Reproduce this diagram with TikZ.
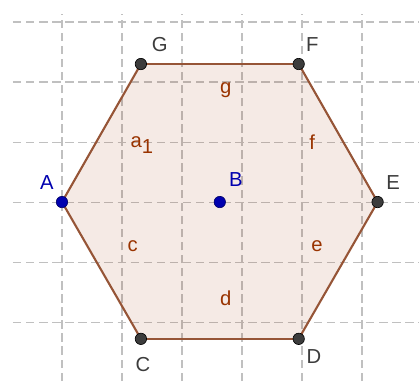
\documentclass[tikz,border=0pt]{standalone}
\usepackage{fontspec}
\setmainfont{Liberation Sans}
\usepackage{xcolor}

\definecolor{hexbrown}{RGB}{153,51,0}
\definecolor{hexedge}{RGB}{150,85,55}
\definecolor{gridgray}{RGB}{192,192,192}
\definecolor{ptgray}{RGB}{60,60,60}
\definecolor{ptblue}{RGB}{0,0,175}

\tikzset{
  gridline/.style={gridgray, line width=0.5pt, dash pattern=on 4pt off 2.2pt},
  side/.style={hexedge, line width=1pt},
  pt/.style={circle, inner sep=0pt, minimum size=5.4pt, fill=ptgray, draw=black, line width=0.3pt},
  bluept/.style={pt, fill=ptblue, draw=ptblue!60!black},
  ptlabel/.style={ptgray, font=\fontsize{9.6}{11}\selectfont},
  bluelabel/.style={ptblue, font=\fontsize{9.6}{11}\selectfont},
  sidelabel/.style={hexbrown, font=\fontsize{9.6}{11}\selectfont}
}

\begin{document}
\begin{tikzpicture}
  \useasboundingbox (-1.033,-2.983) rectangle (5.95,3.367);
  % grid
  \foreach \x in {0,...,5}
    \draw[gridline] (\x,-2.983) -- (\x,3.133);
  \foreach \y in {-2,...,3}
    \draw[gridline] (-0.817,\y) -- (5.95,\y);
  % vertices
  \coordinate (A) at (0,0);
  \coordinate (G) at (1.315,2.3);
  \coordinate (F) at (3.945,2.3);
  \coordinate (E) at (5.26,0);
  \coordinate (D) at (3.945,-2.28);
  \coordinate (C) at (1.315,-2.28);
  \coordinate (B) at (2.63,0);
  \fill[hexbrown, fill opacity=0.1] (A) -- (G) -- (F) -- (E) -- (D) -- (C) -- cycle;
  \draw[side] (A) -- (G); % a_1
  \draw[side] (G) -- (F); % g
  \draw[side] (F) -- (E); % f
  \draw[side] (E) -- (D); % e
  \draw[side] (D) -- (C); % d
  \draw[side] (C) -- (A); % c
  % side labels
  \node[sidelabel] (la1) at (1.33,0.95) {a\raisebox{-0.6ex}{1}};
  \node[sidelabel] (lg) at (2.73,1.87) {g};
  \node[sidelabel] (lf) at (4.17,1.0) {f};
  \node[sidelabel] (le) at (4.25,-0.73) {e};
  \node[sidelabel] (ld) at (2.73,-1.6) {d};
  \node[sidelabel] (lc) at (1.18,-0.73) {c};
  % points
  \node[bluept] (pA) at (A) {};
  \node[bluept] (pB) at (B) {};
  \node[pt] (pG) at (G) {};
  \node[pt] (pF) at (F) {};
  \node[pt] (pE) at (E) {};
  \node[pt] (pD) at (D) {};
  \node[pt] (pC) at (C) {};
  \node[bluelabel] (nA) at (-0.25,0.33) {A};
  \node[bluelabel] (nB) at (2.9,0.37) {B};
  \node[ptlabel] (nG) at (1.63,2.62) {G};
  \node[ptlabel] (nF) at (4.17,2.62) {F};
  \node[ptlabel] (nE) at (5.52,0.33) {E};
  \node[ptlabel] (nD) at (4.2,-2.57) {D};
  \node[ptlabel] (nC) at (1.35,-2.7) {C};
\end{tikzpicture}
\end{document}
